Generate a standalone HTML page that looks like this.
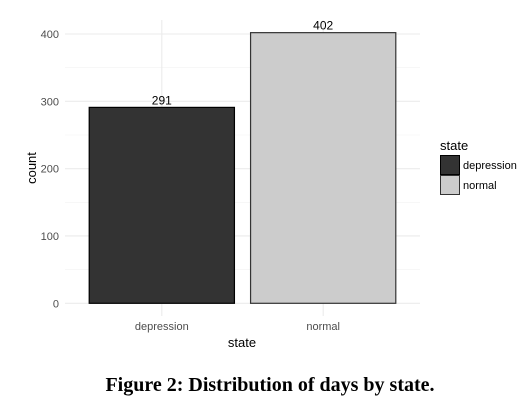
<!DOCTYPE html>
<html><head><meta charset="utf-8"><style>
body{margin:0;background:#fff;width:528px;height:414px;overflow:hidden}
svg{display:block}
text{font-family:"Liberation Sans",sans-serif}
</style></head><body>
<svg width="528" height="414">
<g id="grid"></g><g id="bars"></g><g id="labels"></g>
<text x="242" y="347" text-anchor="middle" font-size="13" fill="#000">state</text>
<text transform="translate(36,168) rotate(-90)" text-anchor="middle" font-size="13" fill="#000">count</text>
<g>
<text x="440" y="150" font-size="13">state</text>
<rect x="440.5" y="155.5" width="19" height="19" fill="#333" stroke="#000" stroke-width="1"/>
<rect x="440.5" y="175.5" width="19" height="19" fill="#ccc" stroke="#333" stroke-width="1"/>
<text x="463" y="169" font-size="11">depression</text>
<text x="463" y="189" font-size="11">normal</text>
</g>
<text x="270" y="391" text-anchor="middle" style="font-family:'Liberation Serif',serif;font-weight:bold;font-size:20px">Figure 2: Distribution of days by state.</text>
</svg>
<script>
const categories=["depression","normal"];
const values=[291,402];
const yTicks=[0,100,200,300,400];
const fills=["#333333","#cccccc"];
const NS="http://www.w3.org/2000/svg";
const px0=65,px1=420,y0=303.3,yTop=34;
const yS=v=>y0-(v/400)*(y0-yTop);
const step=(px1-px0)/2.2;
const xS=i=>px0+(i+0.6)*step;
function mk(tag,attrs,parent,txt){const e=document.createElementNS(NS,tag);for(const k in attrs)e.setAttribute(k,attrs[k]);if(txt!==undefined)e.textContent=txt;document.getElementById(parent).appendChild(e);return e;}
const minor=[50,150,250,350];
minor.forEach(v=>{const l=mk('line',{x1:px0,x2:px1,y1:yS(v),y2:yS(v),stroke:'#f2f2f2','stroke-width':0.6},'grid');

});
yTicks.forEach(v=>{const l=mk('line',{x1:px0,x2:px1,y1:yS(v),y2:yS(v),stroke:'#ebebeb','stroke-width':1.1},'grid');


const t=mk('text',{x:59,y:yS(v)+4,'text-anchor':'end','font-size':11,fill:'#4d4d4d'},'labels',String(v));

});
categories.forEach((c,i)=>{const l=mk('line',{x1:xS(i),x2:xS(i),y1:20,y2:316,stroke:'#ebebeb','stroke-width':1.1},'grid');


const w=step*0.9;
const r=mk('rect',{x:xS(i)-w/2,y:yS(values[i]),width:w,height:y0-yS(values[i]),fill:fills[i],stroke:i?'#333':'#000','stroke-width':1.2},'bars');


const t=mk('text',{x:xS(i),y:yS(values[i])-3,'text-anchor':'middle','font-size':12,fill:'#000'},'labels',String(values[i]));


const xt=mk('text',{x:xS(i),y:330,'text-anchor':'middle','font-size':11,fill:'#4d4d4d'},'labels',c);

});
</script>
</body></html>
